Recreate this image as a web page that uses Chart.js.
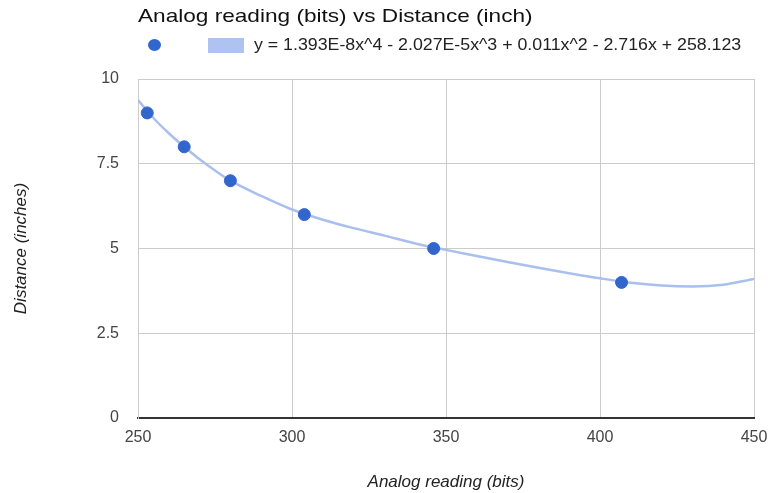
<!DOCTYPE html>
<html>
<head>
<meta charset="utf-8">
<script src="https://cdn.jsdelivr.net/npm/chart.js@4"></script>
<style>
  body { margin: 0; background: #fff; font-family: "Liberation Sans", Arial, sans-serif; }
  #wrap { position: relative; width: 768px; height: 493px; }
  #title { position: absolute; left: 138px; top: 5px; font-size: 19px; color: #111; white-space: nowrap;
           transform: scaleX(1.19); transform-origin: left top; }
  #legend { position: absolute; left: 148px; top: 36px; font-size: 16px; color: #222; display: flex; align-items: center; white-space: nowrap; }
  .dot { width: 13px; height: 12px; border-radius: 50%; background: #3366cc; }
  .box { width: 36px; height: 15px; background: #aec3ef; margin-left: 47px; margin-right: 10px; }
  #eq { display: inline-block; transform: scaleX(1.11); transform-origin: left center; }
</style>
</head>
<body>
<div id="wrap">
  <canvas id="c" width="768" height="493"></canvas>
  <div id="title">Analog reading (bits) vs Distance (inch)</div>
  <div id="legend"><div class="dot"></div><div class="box"></div><span id="eq">y = 1.393E-8x^4 - 2.027E-5x^3 + 0.011x^2 - 2.716x + 258.123</span></div>
</div>
<script>
// measured points
const readings = [253, 265, 280, 304, 346, 407];
const distances = [9, 8, 7, 6, 5, 4];

// trendline
const trendX = [250, 255, 260, 265, 270, 275, 280, 290, 300, 310, 320, 330, 340, 350, 360, 370, 380, 390, 400, 410, 420, 430, 440, 450];
const trendY = [9.38, 8.85, 8.4, 8.0, 7.63, 7.3, 7.0, 6.55, 6.15, 5.85, 5.6, 5.38, 5.15, 4.96, 4.78, 4.6, 4.43, 4.27, 4.12, 3.99, 3.91, 3.88, 3.93, 4.1];

const xTicks = [250, 300, 350, 400, 450];
const yTicks = [0, 2.5, 5, 7.5, 10];

const tickFont = { family: 'Liberation Sans, Arial, sans-serif', size: 16 };
const titleFont = { family: 'Liberation Sans, Arial, sans-serif', size: 17, style: 'italic' };

new Chart(document.getElementById('c'), {
  type: 'scatter',
  data: {
    datasets: [{
      label: '',
      data: readings.map((x, i) => ({ x: x, y: distances[i] })),
      backgroundColor: '#3366cc',
      borderColor: '#3366cc',
      pointRadius: 6,
      pointHoverRadius: 6
    }, {
      label: 'trend',
      data: trendX.map((x, i) => ({ x: x, y: trendY[i] })),
      showLine: true,
      borderColor: '#a9bfee',
      borderWidth: 2.5,
      pointRadius: 0,
      cubicInterpolationMode: 'monotone'
    }]
  },
  options: {
    responsive: false,
    animation: false,
    layout: { padding: { top: 79, right: 14 } },
    plugins: { legend: { display: false }, tooltip: { enabled: false } },
    scales: {
      x: {
        min: 250, max: 450,
        afterBuildTicks: s => { s.ticks = xTicks.map(v => ({ value: v })); },
        afterFit: s => { s.height = 75; s.paddingRight = 0; s.paddingLeft = 0; },
        grid: { color: '#cccccc', drawTicks: false },
        border: { color: '#333333', width: 2 },
        ticks: { color: '#444', font: tickFont, padding: 10, maxRotation: 0 },
        title: { display: true, text: 'Analog reading (bits)', color: '#222', font: titleFont, padding: { top: 0, bottom: 1 } }
      },
      y: {
        min: 0, max: 10,
        afterBuildTicks: s => { s.ticks = yTicks.map(v => ({ value: v })); },
        afterFit: s => { s.width = 138; },
        grid: { color: '#cccccc', drawTicks: false },
        border: { color: '#cccccc' },
        ticks: { color: '#444', font: tickFont, padding: 19 },
        title: { display: true, text: 'Distance (inches)', color: '#222', font: titleFont, padding: { top: 11, bottom: 0 } }
      }
    }
  }
});
</script>
</body>
</html>
